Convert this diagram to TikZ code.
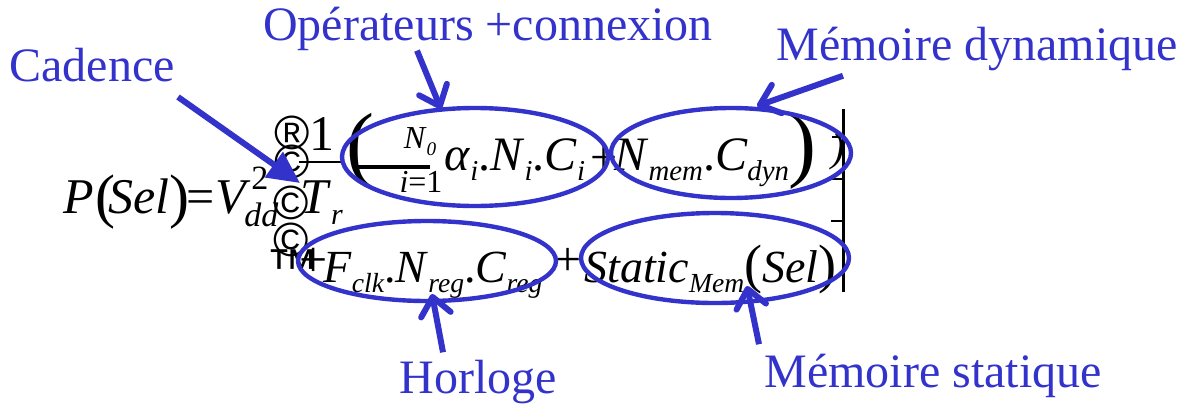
\documentclass[tikz,border=0pt]{standalone}
\usepackage{fontspec}
\setmainfont{Liberation Serif}
\newfontfamily\formulafont{Liberation Serif}
\newfontfamily\markfont{Liberation Sans}
\usetikzlibrary{arrows.meta,shapes.geometric}
\definecolor{penblue}{RGB}{51,51,204}
\newcommand{\dn}[1]{\raisebox{-0.22em}{\scalebox{0.6}{\itshape #1}}}

\begin{document}
\begin{tikzpicture}[x=0.5pt, y=-0.5pt, lbl/.style={text=penblue, inner sep=0, font=\fontsize{24}{24}\selectfont}, mth/.style={inner sep=0, anchor=base west, font=\formulafont\fontsize{24}{24}\selectfont}, big/.style={mth, font=\formulafont\fontsize{25}{25}\selectfont}, paren/.style={mth, font=\formulafont\fontsize{30}{30}\selectfont}, glyph/.style={inner sep=0, font=\markfont\fontsize{24}{24}\selectfont}, ell/.style={ellipse, draw=penblue, line width=2.2pt, inner sep=0}, arr/.style={penblue, line width=3pt, -{Straight Barb[round, length=9pt, width=15pt]}}, bigarr/.style={penblue, line width=3pt, -{Triangle[length=16pt, width=15pt]}}]
  \useasboundingbox (0,0) rectangle (1199,407);
  % first line of the formula
  \node[big] (p) at (63,213) {\textit{P}};
  \node[paren] (lparsel) at (95,216) {(};
  \node[big] (sel) at (108,213) {\textit{Sel}};
  \node[paren] (rparsel) at (169,216) {)};
  \node[big] (eq) at (186,213) {=};
  \node[big] (vdd) at (215,213) {\textit{V}};
  \node[mth, font=\formulafont\fontsize{17}{17}\selectfont] (sq) at (251,189) {2};
  \node[mth, font=\formulafont\fontsize{17}{17}\itshape] (dd) at (244,226) {dd};
  \node[glyph] (reg) at (292,133) {®};
  \node[big] (one) at (309,150) {1};
  \node[glyph] (copa) at (292,162) {©};
  \draw[line width=0.8pt] (299,162) -- (341,162);
  \node[glyph] (copb) at (291,203) {©};
  \node[big] (tr) at (300,213) {\textit{T}\dn{r}};
  \node[glyph] (copc) at (291,240) {©};
  \node[glyph, font=\markfont\fontsize{26}{26}\selectfont] (tm) at (292,268) {™};
  \node[big, anchor=center] (plusa) at (314,262) {+};
  \node[mth, anchor=center, font=\formulafont\fontsize{42}{42}\selectfont] (lpar) at (360,151) {(};
  \draw[line width=2pt] (358,167) -- (430,167);
  \node[mth, anchor=center, font=\formulafont\fontsize{16}{16}\selectfont] (nzero) at (420,142) {\textit{N}\dn{0}};
  \node[mth, anchor=center, font=\formulafont\fontsize{16}{16}\selectfont] (ione) at (421,182) {\textit{i}=1};
  \node[mth] (ani) at (444,170) {\textit{α}\dn{i}.\textit{N}\dn{i}.\textit{C}\dn{i}};
  \node[mth, anchor=center] (plusb) at (604,160) {+};
  \node[mth] (nmc) at (614,170) {\textit{N}\dn{mem}.\textit{C}\dn{dyn}};
  \node[mth, anchor=center, font=\formulafont\fontsize{42}{42}\selectfont] (rpar) at (802,151) {)};
  \node[mth, anchor=center, font=\formulafont\fontsize{20}{20}\itshape] (rpiece) at (838,152) {)};
  \draw[line width=1.5pt] (843,109) -- (843,292);
  \draw[line width=1pt] (843,137) -- (832,137) (843,179) -- (832,179) (843,221) -- (831,221);
  % second line of the formula
  \node[mth, font=\formulafont\fontsize{23}{23}\selectfont] (fnc) at (323,282) {\textit{F}\dn{clk}.\textit{N}\dn{reg}.\textit{C}\dn{reg}};
  \node[mth, anchor=center] (plusc) at (568,262) {+};
  \node[mth, font=\formulafont\fontsize{23}{23}\selectfont] (stat) at (584,282) {\textit{Static}\dn{Mem}{\fontsize{27}{27}\selectfont(}\textit{Sel}{\fontsize{27}{27}\selectfont)}};
  % circled terms
  \node[ell, minimum width=133pt, minimum height=49pt] (eops) at (475,157) {};
  \node[ell, minimum width=120pt, minimum height=45pt] (edyn) at (731,153) {};
  \node[ell, minimum width=129pt, minimum height=40pt] (eclk) at (427,261) {};
  \node[ell, minimum width=134pt, minimum height=45pt] (estat) at (715,258) {};
  % labels
  \node[lbl, anchor=base] (cad) at (92,81) {Cadence};
  \node[lbl, anchor=base] (ops) at (488,40) {Opérateurs +connexion};
  \node[lbl, anchor=base] (dyn) at (977,60) {Mémoire dynamique};
  \node[lbl, anchor=base] (hor) at (478,393) {Horloge};
  \node[lbl, anchor=base] (sta) at (933,387) {Mémoire statique};
  \coordinate (cadTip) at (300,183);
  \coordinate (opsTip) at (441,109);
  \coordinate (dynTip) at (757,106);
  \coordinate (horTip) at (432,294);
  \coordinate (staTip) at (747,286);
  \draw[bigarr] ([shift={(3,16)}]cad.base east) -- (cadTip);
  \draw[arr] ([shift={(-71,0)}]ops.south) -- (opsTip);
  \draw[arr] ([shift={(-134,5)}]dyn.south) -- (dynTip);
  \draw[arr] ([shift={(-35,-7)}]hor.north) -- (horTip);
  \draw[arr] ([shift={(-174,-9)}]sta.north) -- (staTip);
\end{tikzpicture}
\end{document}
